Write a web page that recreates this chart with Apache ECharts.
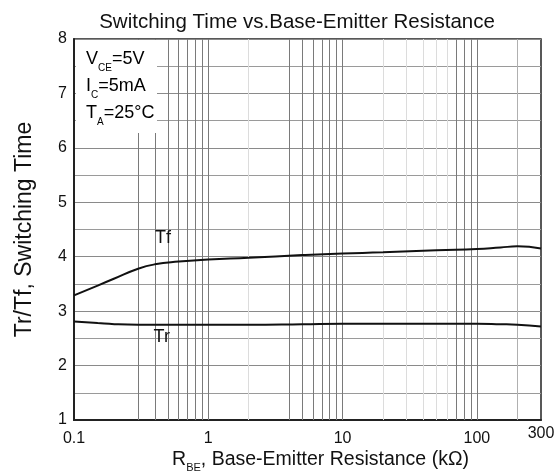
<!DOCTYPE html>
<html>
<head>
<meta charset="utf-8">
<script src="https://cdn.jsdelivr.net/npm/echarts@6/dist/echarts.min.js"></script>
<style>
  html, body { margin: 0; padding: 0; background: #fff; }
  #main { width: 557px; height: 473px; }
</style>
</head>
<body>
<div id="main"></div>
<script>
// R_BE in kOhm (log axis)
var rbe = [0.1, 0.15, 0.2, 0.3, 0.4, 0.6, 1, 2, 5, 10, 20, 50, 100, 150, 200, 300];
var tf = [3.29, 3.47, 3.6, 3.78, 3.86, 3.91, 3.95, 3.98, 4.03, 4.06, 4.08, 4.12, 4.14, 4.17, 4.19, 4.15];
var tr = [2.81, 2.78, 2.76, 2.75, 2.75, 2.75, 2.75, 2.75, 2.76, 2.77, 2.77, 2.77, 2.77, 2.76, 2.75, 2.72];

// vertical grid positions as drawn in the datasheet (not a full log grid)
var gridDark = [0.3, 0.4, 0.5, 0.6, 0.7, 0.8, 0.9, 1, 4, 5, 6, 7, 8, 9, 10, 70, 80, 90, 100];
var gridLight = [2, 20, 30, 40, 50, 60];
var gridMid = [200];

var condLines = ['{m|V}{s|CE}{m|=5V}', '{m|I}{s|C}{m|=5mA}', '{m|T}{s|A}{m|=25°C}'];

var font = 'Liberation Sans, Arial, sans-serif';
var myChart = echarts.init(document.getElementById('main'));

function vline(vals, color) {
  return vals.map(function (v) {
    return { xAxis: v, lineStyle: { color: color } };
  });
}

function curveLabel(text, coord) {
  return {
    symbol: 'circle',
    symbolSize: 1,
    itemStyle: { color: 'rgba(0,0,0,0)' },
    label: { show: true, position: 'inside', formatter: text, fontFamily: font, fontSize: 18, color: '#111' },
    data: [{ coord: coord }]
  };
}

var subRich = {
  m: { fontSize: 18, fontFamily: font, color: '#111', lineHeight: 27 },
  s: { fontSize: 10, fontFamily: font, color: '#111', verticalAlign: 'bottom', padding: [17, 0, 0, 0], lineHeight: 10 }
};

var option = {
  animation: false,
  backgroundColor: '#fff',
  title: {
    text: 'Switching Time vs.Base-Emitter Resistance',
    left: 292,
    textAlign: 'center',
    top: 7,
    textStyle: { fontFamily: font, fontSize: 20.5, fontWeight: 'normal', color: '#111' }
  },
  grid: {
    left: 74, right: 16, top: 39, bottom: 53,
    containLabel: false,
    outerBoundsMode: 'none',
    show: true, borderColor: '#222', borderWidth: 1.5, backgroundColor: 'transparent'
  },
  xAxis: {
    type: 'log',
    logBase: 10,
    min: 0.1,
    max: 300,
    name: '{m|R}{s|BE}{m|, Base-Emitter Resistance (kΩ)}',
    nameLocation: 'middle',
    nameGap: 27,
    nameMoveOverlap: false,
    nameTextStyle: {
      padding: [0, 0, 0, 26],
      rich: {
        m: { fontSize: 19.5, fontFamily: font, color: '#111', lineHeight: 26 },
        s: { fontSize: 11, fontFamily: font, color: '#111', verticalAlign: 'bottom', padding: [16, 0, 0, 0], lineHeight: 12 }
      }
    },
    axisLine: { show: true, lineStyle: { color: '#222', width: 2 } },
    axisTick: { show: false },
    axisLabel: {
      margin: 11,
      fontFamily: font, fontSize: 16, color: '#111',
      formatter: function (v) {
        if (v > 250) return '{hi|300}';
        return v >= 1 ? String(Math.round(v)) : String(v);
      },
      rich: { hi: { fontFamily: font, fontSize: 16, color: '#111', padding: [-5, 0, 0, 0] } }
    },
    splitLine: { show: false }
  },
  yAxis: {
    type: 'value',
    min: 1,
    max: 8,
    interval: 1,
    name: 'Tr/Tf, Switching Time',
    nameLocation: 'middle',
    nameGap: 38,
    nameMoveOverlap: false,
    nameTextStyle: { fontFamily: font, fontSize: 23, color: '#111' },
    axisLine: { show: true, lineStyle: { color: '#222', width: 2 } },
    axisTick: { show: false },
    axisLabel: { margin: 7, fontFamily: font, fontSize: 16, color: '#111' },
    splitLine: { show: true, lineStyle: { color: '#8a8a8a', width: 1 } },
    minorTick: { show: false, splitNumber: 2 },
    minorSplitLine: { show: true, lineStyle: { color: '#9a9a9a', width: 1 } }
  },
  graphic: [
    {
      type: 'rect', z: 100,
      shape: { x: 76, y: 40, width: 81, height: 93 },
      style: { fill: '#fff' }
    },
    {
      type: 'text', z: 101, left: 86, top: 46,
      style: { text: condLines.join('\n'), rich: subRich }
    }
  ],
  series: [
    {
      type: 'line',
      data: [],
      z: 1,
      silent: true,
      markLine: {
        silent: true,
        symbol: 'none',
        label: { show: false },
        lineStyle: { type: 'solid', width: 1 },
        data: vline(gridLight, '#dcdcdc')
          .concat(vline(gridMid, '#b0b0b0'))
          .concat(vline(gridDark, '#7a7a7a'))
      }
    },
    {
      name: 'Tf',
      type: 'line',
      data: rbe.map(function (x, i) { return [x, tf[i]]; }),
      smooth: true,
      symbol: 'none',
      z: 5,
      lineStyle: { color: '#111', width: 2 },
      markPoint: curveLabel('Tf', [0.46, 4.34])
    },
    {
      name: 'Tr',
      type: 'line',
      data: rbe.map(function (x, i) { return [x, tr[i]]; }),
      smooth: true,
      symbol: 'none',
      z: 5,
      lineStyle: { color: '#111', width: 2 },
      markPoint: curveLabel('Tr', [0.45, 2.52])
    }
  ]
};
myChart.setOption(option, true);
</script>
</body>
</html>
